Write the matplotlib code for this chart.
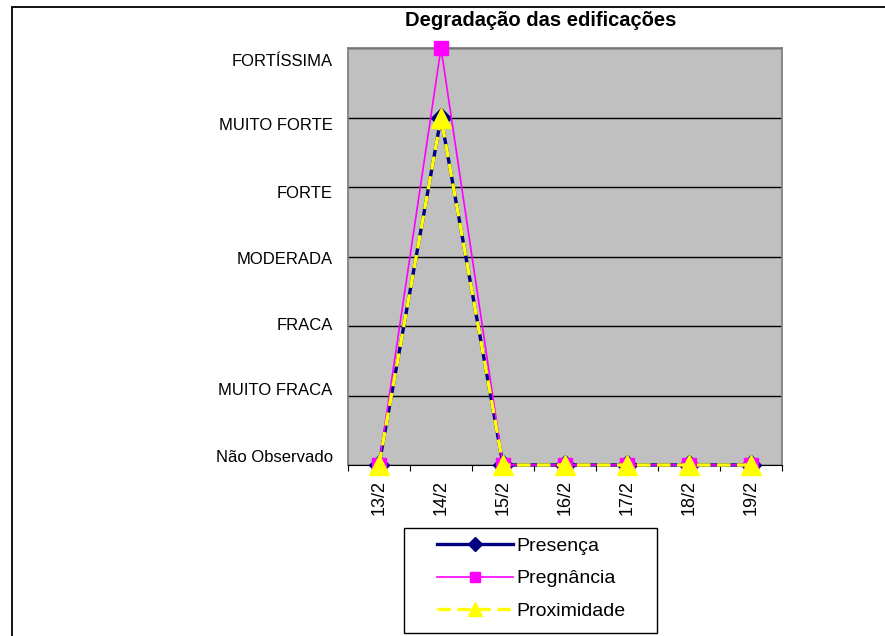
import numpy as np
import matplotlib
matplotlib.use("Agg")
import matplotlib.pyplot as plt
from matplotlib.patches import Rectangle
from matplotlib.transforms import ScaledTranslation

plt.rcParams['font.family'] = ['Liberation Sans', 'DejaVu Sans']

dias = ['13/2', '14/2', '15/2', '16/2', '17/2', '18/2', '19/2']
niveis = ['Não Observado', 'MUITO FRACA', 'FRACA', 'MODERADA',
          'FORTE', 'MUITO FORTE', 'FORTÍSSIMA']
presenca = [0, 5, 0, 0, 0, 0, 0]
pregnancia = [0, 6, 0, 0, 0, 0, 0]
proximidade = [0, 5, 0, 0, 0, 0, 0]

W, H = 885, 636
fig = plt.figure(figsize=(W / 100, H / 100), dpi=100)
ax = fig.add_axes([348 / W, 1 - 465 / H, 434 / W, 417 / H])

# moldura externa do gráfico
fig.patches.append(Rectangle((12 / W, -0.05), 1.0, 1 - 7 / H + 0.05,
                             transform=fig.transFigure, fill=False,
                             edgecolor='black', linewidth=1.3))

ax.set_facecolor('#c0c0c0')
x = np.arange(len(dias))

ax.plot(x, presenca, color='#000080', lw=2.4, marker='D', ms=10,
        label='Presença', zorder=3, clip_on=False)
ax.plot(x, pregnancia, color='#ff00ff', lw=1.2, marker='s', ms=9.5,
        label='Pregnância', zorder=4, clip_on=False)
ax.plot(x, proximidade, color='#ffff00', lw=2.4, ls=(0, (4, 2)),
        marker='^', ms=14, label='Proximidade', zorder=5, clip_on=False)

ax.set_xlim(-0.5, len(dias) - 0.5)
ax.set_ylim(0, 6)

ax.set_yticks(range(len(niveis)))
ax.set_yticklabels(niveis, fontsize=12)
ax.yaxis.grid(True, color='black', lw=1)
ax.set_axisbelow(True)

# marcas entre categorias, rótulos no centro
ax.set_xticks(np.arange(-0.5, len(dias), 1))
ax.set_xticklabels([])
ax.set_xticks(x, minor=True)
ax.set_xticklabels(dias, minor=True, rotation=90, fontsize=13)
ax.tick_params(axis='x', which='major', length=4, direction='out')
ax.tick_params(axis='x', which='minor', length=0, pad=11)
ax.tick_params(axis='y', length=0, pad=11)

# rótulos do eixo y ligeiramente comprimidos em direção ao centro
desloc = [-9, -6.5, -2, 1.5, 4.5, 7, 12.5]
for lab, d in zip(ax.get_yticklabels(), desloc):
    lab.set_transform(lab.get_transform() +
                      ScaledTranslation(0, -d / 100, fig.dpi_scale_trans))

for s in ['top', 'right', 'left']:
    ax.spines[s].set_color('#808080')
    ax.spines[s].set_linewidth(1.3)
ax.spines['bottom'].set_color('black')

fig.text(541 / W, 1 - 20 / H, 'Degradação das edificações', ha='center',
         va='center', fontsize=14.5, fontweight='bold')

# legenda com caixa própria
fig.patches.append(Rectangle((404 / W, 1 - 633 / H), 253 / W, 105 / H,
                             transform=fig.transFigure, fill=False,
                             edgecolor='black', linewidth=1))
leg = fig.legend(loc='upper left', bbox_to_anchor=(437 / W, 1 - 537 / H),
                 fontsize=14, frameon=False, handlelength=3.9,
                 labelspacing=0.78, borderpad=0, handletextpad=0.2,
                 borderaxespad=0, markerscale=0.7)

fig.savefig('out.png', dpi=100)
